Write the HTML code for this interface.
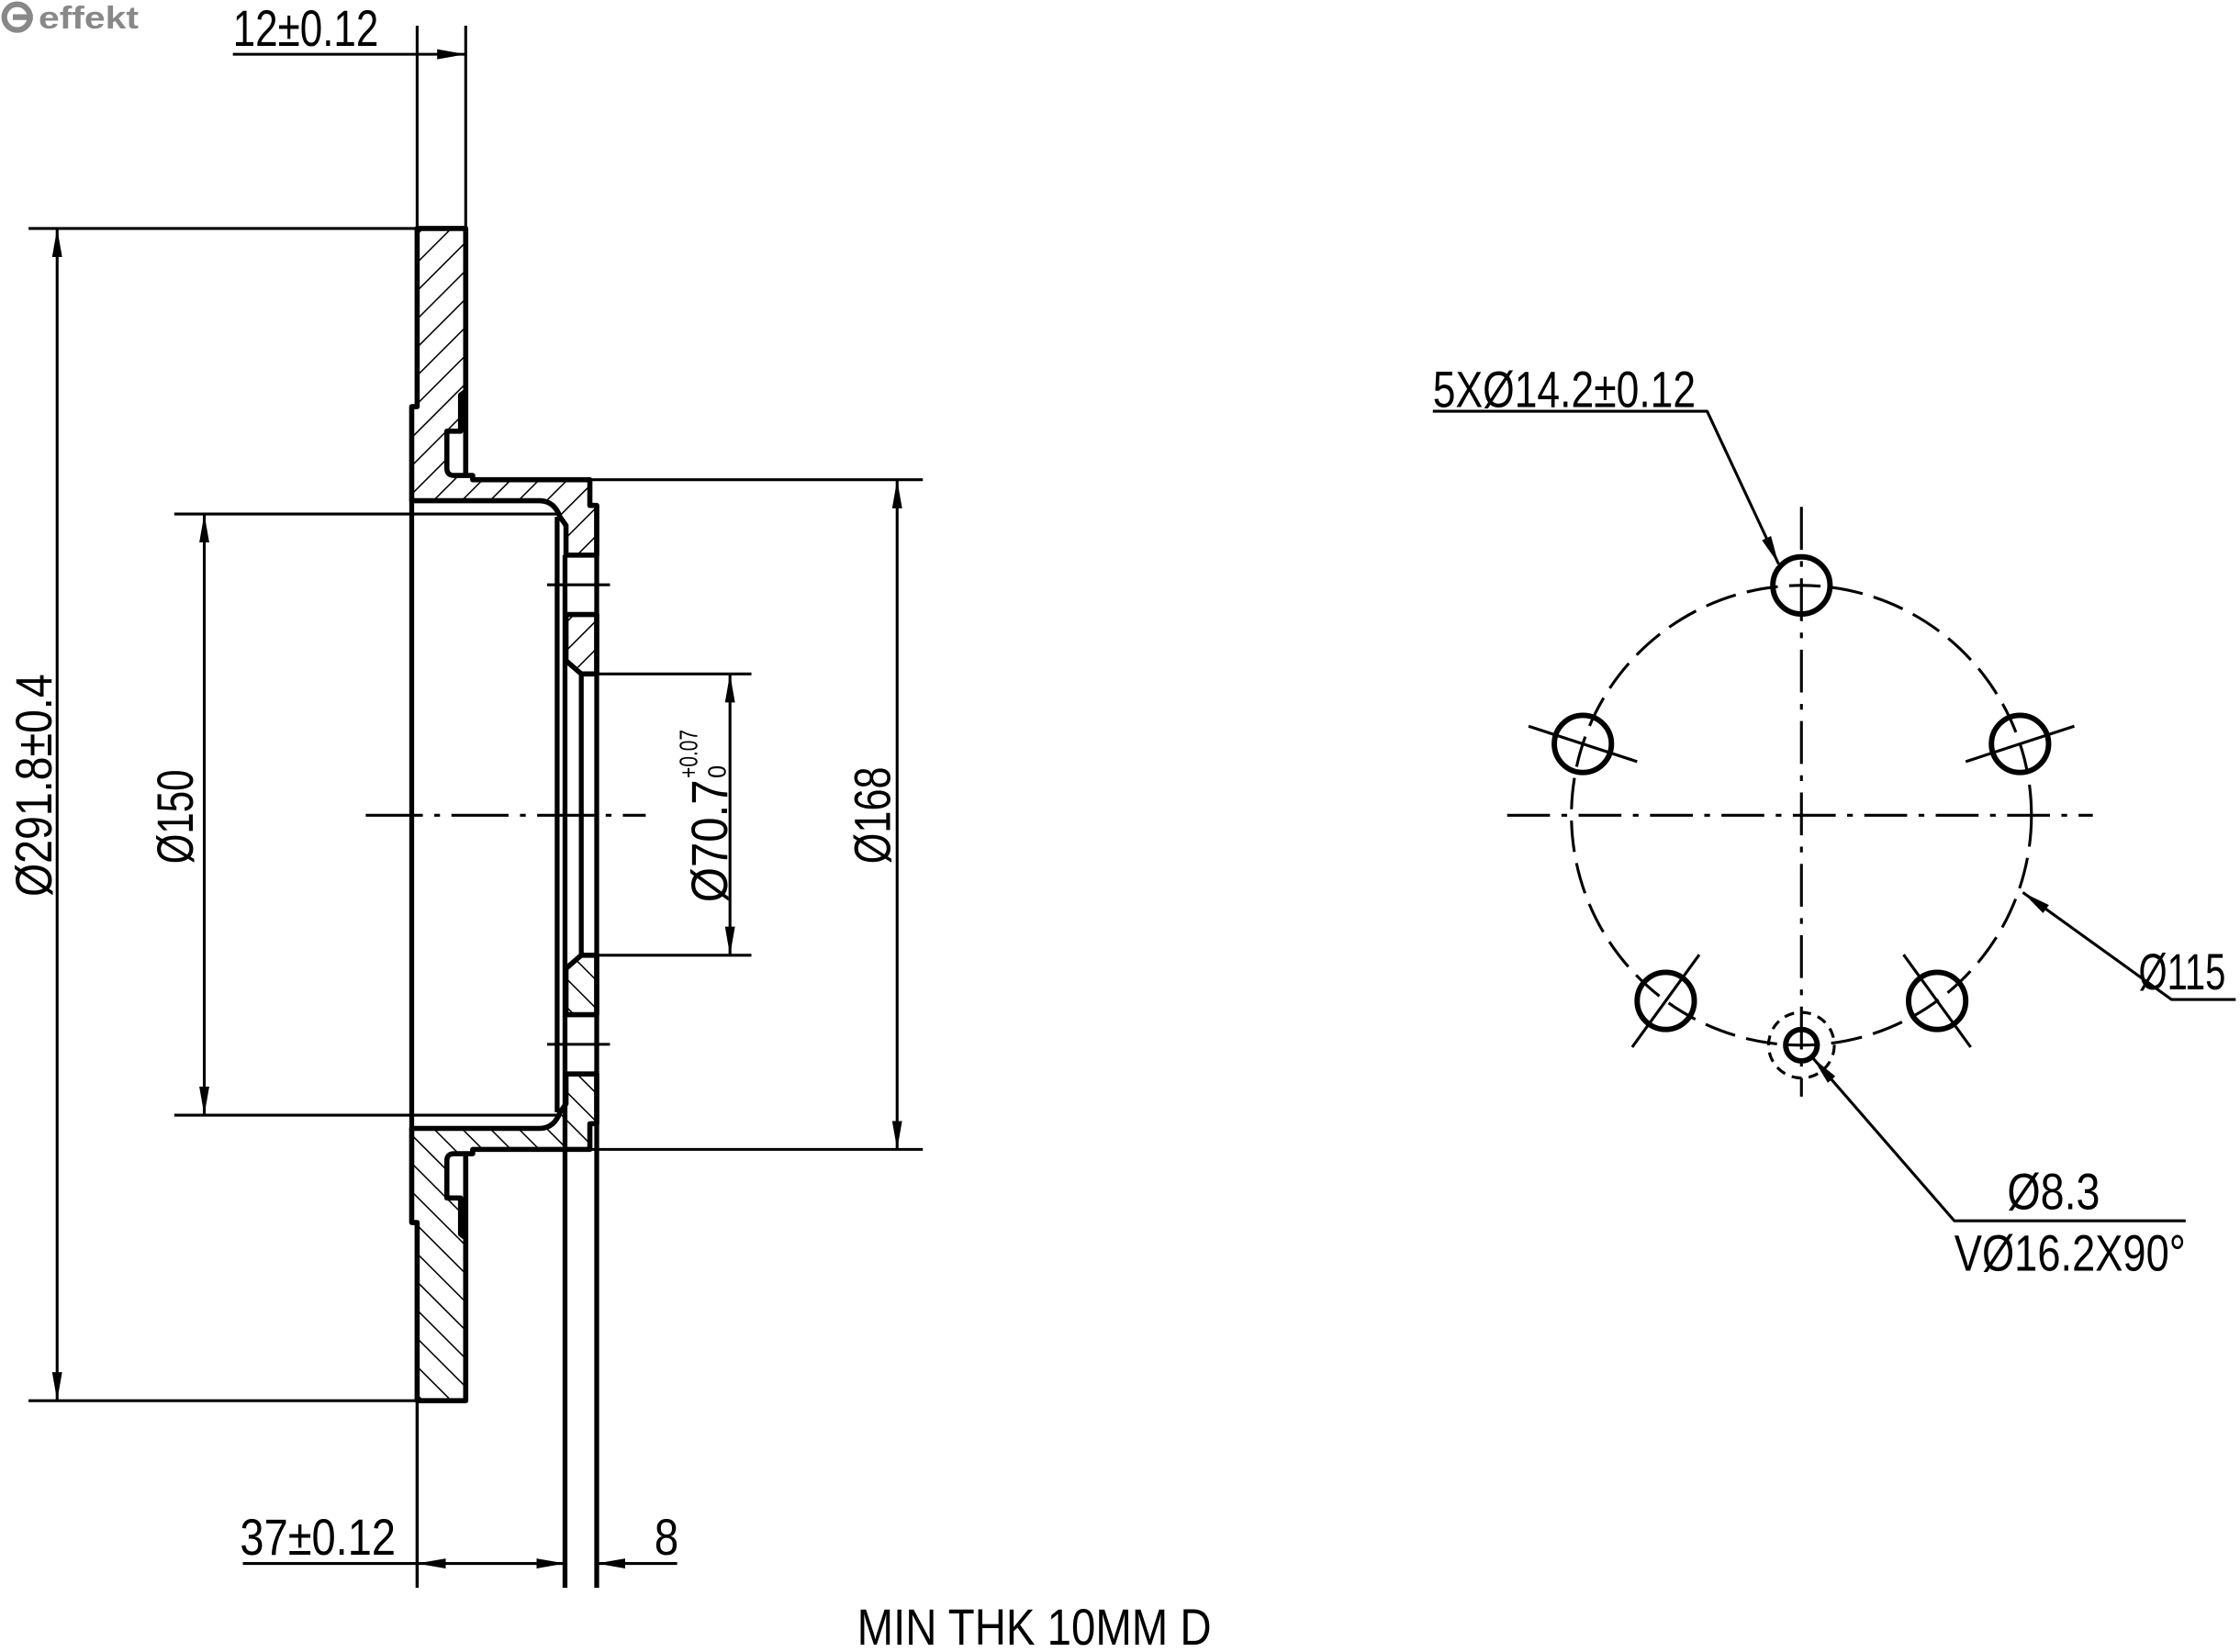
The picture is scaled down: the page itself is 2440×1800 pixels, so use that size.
<!DOCTYPE html>
<html><head><meta charset="utf-8"><style>
html,body{margin:0;padding:0;background:#fff;width:2440px;height:1800px;overflow:hidden}
svg{display:block}
text{font-family:"Liberation Sans",sans-serif;fill:#000}
</style></head><body>
<svg width="2440" height="1800" viewBox="0 0 1568 1157" preserveAspectRatio="none" xmlns="http://www.w3.org/2000/svg">
<defs>
<pattern id="h" patternUnits="userSpaceOnUse" width="14" height="14" patternTransform="rotate(45)">
<line x1="0" y1="0" x2="0" y2="14" stroke="#000" stroke-width="2"/>
</pattern>
<marker id="a" viewBox="0 0 20 8" refX="20" refY="4" markerWidth="20" markerHeight="8" markerUnits="userSpaceOnUse" orient="auto-start-reverse">
<path d="M0,0.5 L20,4 L0,7.5 Z" fill="#000"/>
</marker>
</defs>

<!-- logo -->
<circle cx="12" cy="12" r="9" fill="none" stroke="#888" stroke-width="4"/>
<rect x="9" y="10" width="14" height="4" fill="#888"/>
<text x="27" y="20" font-size="22" font-weight="bold" style="fill:#888" textLength="70" lengthAdjust="spacingAndGlyphs">effekt</text>

<g stroke="#000" fill="none" stroke-linejoin="round">
<g id="up" stroke-width="3.6">
<path fill="url(#h)" d="M292,160 L326,160 L326,274 L322.4,276.7 L322.4,302 L312.8,302 L312.8,328 Q312.8,333 318,333 L330.9,333 L330.9,336 L412.9,336 L412.9,354 L417.7,354 L417.7,388.8 L396.2,388.8 L396.2,368 L392,362 Q388,351 378,350.7 L288.2,350.7 L288.2,284.8 L292,284.8 Z"/>
<path fill="url(#h)" d="M396.2,430.4 L417.7,430.4 L417.7,472 L406.9,472 L396.2,462.7 Z"/>
<line x1="326" y1="274" x2="326" y2="334"/>
</g>
<use href="#up" transform="matrix(1 0 0 -1 0 1141)"/>

<g stroke-width="3.4">
<line x1="288.2" y1="350" x2="288.2" y2="791"/>
<line x1="390" y1="362" x2="390" y2="779"/>
<line x1="395.5" y1="388.8" x2="395.5" y2="1112"/>
<line x1="406.9" y1="472" x2="406.9" y2="669"/>
<line x1="417.7" y1="354" x2="417.7" y2="1112"/>
<line x1="292" y1="981" x2="292" y2="1112" stroke-width="2.2"/>
</g>

<g stroke-width="2">
<line x1="292" y1="18" x2="292" y2="160"/>
<line x1="326" y1="18" x2="326" y2="160"/>
<line x1="20" y1="160" x2="292" y2="160"/>
<line x1="20" y1="981" x2="292" y2="981"/>
<line x1="122" y1="360" x2="390" y2="360"/>
<line x1="122" y1="781" x2="390" y2="781"/>
<line x1="413" y1="336" x2="646" y2="336"/>
<line x1="413" y1="805" x2="646" y2="805"/>
<line x1="407" y1="472" x2="526" y2="472"/>
<line x1="407" y1="669" x2="526" y2="669"/>
<line x1="383" y1="409.6" x2="427" y2="409.6"/>
<line x1="383" y1="731.4" x2="427" y2="731.4"/>
<line x1="256" y1="571" x2="452" y2="571" stroke-dasharray="40,8,4,8"/>
<line x1="163" y1="38" x2="292" y2="38"/>
<line x1="292" y1="38" x2="326" y2="38" marker-end="url(#a)"/>
<line x1="40" y1="160" x2="40" y2="981" marker-start="url(#a)" marker-end="url(#a)"/>
<line x1="143" y1="360" x2="143" y2="781" marker-start="url(#a)" marker-end="url(#a)"/>
<line x1="511" y1="472" x2="511" y2="669" marker-start="url(#a)" marker-end="url(#a)"/>
<line x1="628" y1="336" x2="628" y2="805" marker-start="url(#a)" marker-end="url(#a)"/>
<line x1="170" y1="1095" x2="292" y2="1095"/>
<line x1="292" y1="1095" x2="395.5" y2="1095" marker-start="url(#a)" marker-end="url(#a)"/>
<line x1="474" y1="1095" x2="417.7" y2="1095" marker-end="url(#a)"/>
</g>

<g stroke-width="2">
<line x1="1055" y1="571" x2="1465" y2="571" stroke-dasharray="30,8,4,8"/>
<line x1="1261" y1="355" x2="1261" y2="768" stroke-dasharray="30,8,4,8"/>
<circle cx="1261" cy="571" r="161" stroke-dasharray="22,8"/>
<line x1="1070" y1="508.6" x2="1146" y2="533.4"/>
<line x1="1452" y1="508.6" x2="1376" y2="533.4"/>
<line x1="1142.5" y1="733.4" x2="1189.5" y2="668.6"/>
<line x1="1379.5" y1="733.4" x2="1332.5" y2="668.6"/>
<circle cx="1261" cy="732" r="23" stroke-dasharray="7,5"/>
<polyline points="1003,288 1195,288 1245,395" marker-end="url(#a)"/>
<polyline points="1565,700 1520,700 1416,625" marker-end="url(#a)"/>
<polyline points="1530,855 1368,855 1269,741" marker-end="url(#a)"/>
</g>
<g stroke-width="3.8">
<circle cx="1261" cy="410" r="20"/>
<circle cx="1414" cy="521" r="20"/>
<circle cx="1108" cy="521" r="20"/>
<circle cx="1166" cy="701" r="20"/>
<circle cx="1356" cy="701" r="20"/>
<circle cx="1261" cy="732" r="11"/>
</g>
</g>

<text x="163" y="32" font-size="36" textLength="102" lengthAdjust="spacingAndGlyphs">12±0.12</text>
<text x="168" y="1089" font-size="36" textLength="109" lengthAdjust="spacingAndGlyphs">37±0.12</text>
<text x="458" y="1089" font-size="36" textLength="17" lengthAdjust="spacingAndGlyphs">8</text>
<text x="600" y="1152" font-size="36" textLength="248" lengthAdjust="spacingAndGlyphs">MIN THK 10MM D</text>
<text x="1003" y="285" font-size="36" textLength="184" lengthAdjust="spacingAndGlyphs">5XØ14.2±0.12</text>
<text x="1497" y="693" font-size="36" textLength="61" lengthAdjust="spacingAndGlyphs">Ø115</text>
<text x="1405" y="847" font-size="36" textLength="65" lengthAdjust="spacingAndGlyphs">Ø8.3</text>
<text x="1368" y="890" font-size="36" textLength="162" lengthAdjust="spacingAndGlyphs">VØ16.2X90°</text>
<text transform="translate(36,628) rotate(-90)" font-size="36" textLength="156" lengthAdjust="spacingAndGlyphs">Ø291.8±0.4</text>
<text transform="translate(135,605) rotate(-90)" font-size="36" textLength="66" lengthAdjust="spacingAndGlyphs">Ø150</text>
<text transform="translate(623,605) rotate(-90)" font-size="36" textLength="68" lengthAdjust="spacingAndGlyphs">Ø168</text>
<text transform="translate(509,632) rotate(-90)" font-size="36" textLength="86" lengthAdjust="spacingAndGlyphs">Ø70.7</text>
<text transform="translate(488,545) rotate(-90)" font-size="18" textLength="34" lengthAdjust="spacingAndGlyphs">+0.07</text>
<text transform="translate(508,545) rotate(-90)" font-size="18" textLength="9" lengthAdjust="spacingAndGlyphs">0</text>
</svg>
</body></html>
